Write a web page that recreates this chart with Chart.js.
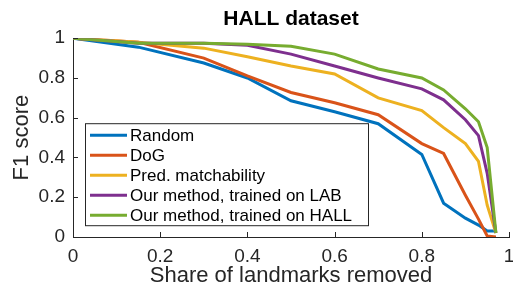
<!DOCTYPE html>
<html>
<head>
<meta charset="utf-8">
<title>HALL dataset</title>
<script src="https://cdn.jsdelivr.net/npm/chart.js@4.4.1/dist/chart.umd.min.js"></script>
<style>
  html, body { margin: 0; padding: 0; background: #fff; }
  #wrap { width: 513px; height: 286px; }
</style>
</head>
<body>
<div id="wrap"><canvas id="hallChart" width="513" height="286" role="img" aria-label="F1 score vs share of landmarks removed, HALL dataset"></canvas></div>
<script>
// values
const shareRemoved = [0, 0.15, 0.3, 0.4, 0.5, 0.6, 0.7, 0.8, 0.85, 0.9, 0.93, 0.95, 0.97];
const randomF1  = [1, 0.955, 0.875, 0.8, 0.685, 0.63, 0.57, 0.415, 0.17, 0.095, 0.06, 0.03, 0.03];
const dogF1     = [1, 0.98, 0.9, 0.81, 0.727, 0.675, 0.615, 0.47, 0.42, 0.21, 0.09, 0.005, 0];
const predF1    = [1, 0.98, 0.95, 0.907, 0.86, 0.82, 0.7, 0.636, 0.55, 0.47, 0.38, 0.16, 0.02];
const labF1     = [1, 0.975, 0.975, 0.965, 0.92, 0.86, 0.8, 0.745, 0.69, 0.59, 0.51, 0.32, 0.02];
const hallF1    = [1, 0.975, 0.975, 0.97, 0.96, 0.92, 0.845, 0.8, 0.74, 0.645, 0.58, 0.45, 0.02];

const seriesNames = [
  "Random",
  "DoG",
  "Pred. matchability",
  "Our method, trained on LAB",
  "Our method, trained on HALL",
];
const seriesValues = [randomF1, dogF1, predF1, labF1, hallF1];
const seriesColors = ["#0072BD", "#D95319", "#EDB120", "#7E2F8E", "#77AC30"];

const xTicks = [0, 0.2, 0.4, 0.6, 0.8, 1];
const xTickLabels = ["0", "0.2", "0.4", "0.6", "0.8", "1"];
const yTicks = [0, 0.2, 0.4, 0.6, 0.8, 1];
const yTickLabels = ["0", "0.2", "0.4", "0.6", "0.8", "1"];

const axisColor = "#262626";
const fontFamily = '"Liberation Sans", Arial, Helvetica, sans-serif';

// MATLAB style ticks point into the plot
const innerTicks = {
  id: "innerTicks",
  afterDatasetsDraw: function (chart) {
    const { ctx, chartArea, scales } = chart;
    ctx.save();
    ctx.strokeStyle = axisColor;
    ctx.lineWidth = 1;
    ctx.beginPath();
    xTicks.forEach(function (v) {
      const px = Math.round(scales.x.getPixelForValue(v)) + 0.5;
      ctx.moveTo(px, chartArea.bottom);
      ctx.lineTo(px, chartArea.bottom - 5);
    });
    yTicks.forEach(function (v) {
      const py = Math.round(scales.y.getPixelForValue(v)) + 0.5;
      ctx.moveTo(chartArea.left, py);
      ctx.lineTo(chartArea.left + 5, py);
    });
    ctx.stroke();
    ctx.restore();
  },
};

// boxed legend sitting inside the axes
const boxLegend = {
  id: "boxLegend",
  afterDraw: function (chart) {
    const { ctx, chartArea } = chart;
    const x0 = chartArea.left + 12;
    const y0 = chartArea.top + 85;
    const w = 283, h = 102, rowH = 20;
    ctx.save();
    ctx.fillStyle = "#fff";
    ctx.fillRect(x0, y0, w, h);
    ctx.strokeStyle = axisColor;
    ctx.lineWidth = 1;
    ctx.strokeRect(x0 + 0.5, y0 + 0.5, w, h);
    ctx.font = "17px " + fontFamily;
    ctx.textBaseline = "middle";
    ctx.textAlign = "left";
    chart.data.datasets.forEach(function (ds, i) {
      const y = y0 + 12 + i * rowH;
      ctx.strokeStyle = ds.borderColor;
      ctx.lineWidth = 3;
      ctx.beginPath();
      ctx.moveTo(x0 + 5, y);
      ctx.lineTo(x0 + 42, y);
      ctx.stroke();
      ctx.fillStyle = "#000";
      ctx.fillText(ds.label, x0 + 45, y + 1);
    });
    ctx.restore();
  },
};

const datasets = seriesNames.map(function (name, i) {
  return {
    label: name,
    data: shareRemoved.map(function (x, j) { return { x: x, y: seriesValues[i][j] }; }),
    borderColor: seriesColors[i],
    backgroundColor: seriesColors[i],
    borderWidth: 3,
    pointRadius: 0,
    tension: 0,
    fill: false,
    order: seriesNames.length - i,
  };
});

new Chart(document.getElementById("hallChart").getContext("2d"), {
  type: "line",
  data: { datasets: datasets },
  options: {
    responsive: false,
    animation: false,
    layout: { padding: { left: 0, right: 4, top: 0, bottom: 0 } },
    plugins: {
      legend: { display: false },
      tooltip: { enabled: false },
      title: {
        display: true,
        text: "HALL dataset",
        fullSize: false,
        color: "#000",
        font: { family: fontFamily, size: 21, weight: "bold" },
        padding: { top: 7, bottom: 6 },
      },
    },
    scales: {
      x: {
        type: "linear",
        min: 0,
        max: 1,
        afterBuildTicks: function (scale) {
          scale.ticks = xTicks.map(function (v) { return { value: v }; });
        },
        afterFit: function (scale) {
          scale.height = 49;
          scale.paddingLeft = 0;
          scale.paddingRight = 0;
        },
        ticks: {
          color: axisColor,
          padding: 8,
          maxRotation: 0,
          autoSkip: false,
          font: { family: fontFamily, size: 19 },
          callback: function (value, index) { return xTickLabels[index]; },
        },
        grid: { drawOnChartArea: false, drawTicks: false },
        border: { color: axisColor, width: 1 },
        title: {
          display: true,
          text: "Share of landmarks removed",
          color: axisColor,
          font: { family: fontFamily, size: 22, lineHeight: 0.9 },
          padding: { top: 0, bottom: 0 },
        },
      },
      y: {
        min: 0,
        max: 1,
        afterBuildTicks: function (scale) {
          scale.ticks = yTicks.map(function (v) { return { value: v }; });
        },
        afterFit: function (scale) {
          scale.width = 73;
        },
        ticks: {
          color: axisColor,
          padding: 8,
          font: { family: fontFamily, size: 19 },
          callback: function (value, index) { return yTickLabels[index]; },
        },
        grid: { drawOnChartArea: false, drawTicks: false },
        border: { color: axisColor, width: 1 },
        title: {
          display: true,
          text: "F1 score",
          color: axisColor,
          font: { family: fontFamily, size: 22, lineHeight: 0.9 },
          padding: { top: 12, bottom: 0 },
        },
      },
    },
  },
  plugins: [innerTicks, boxLegend],
});
</script>
</body>
</html>
